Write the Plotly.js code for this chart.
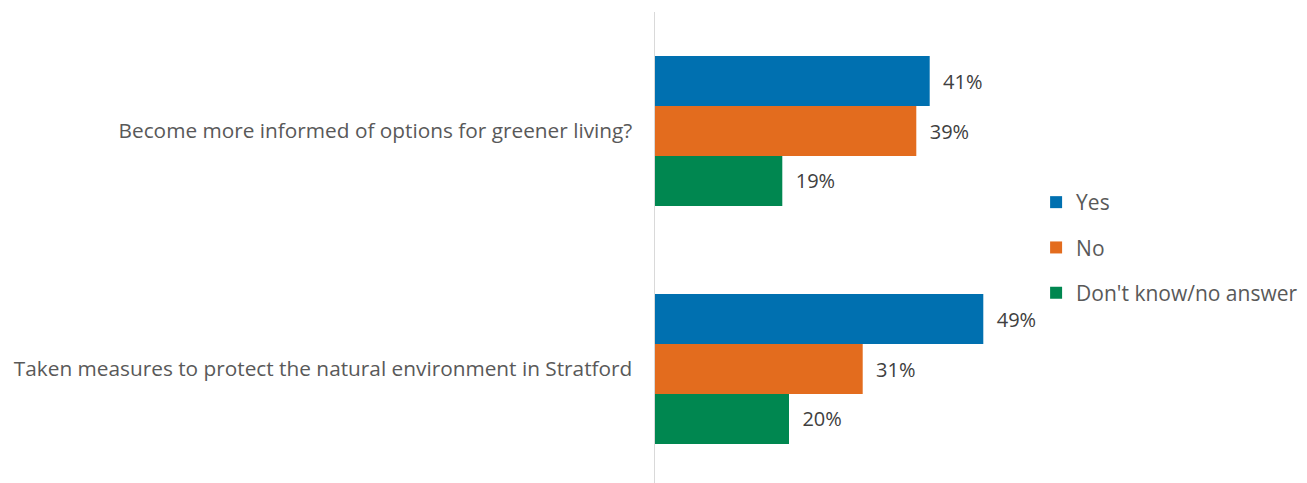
<!DOCTYPE html>
<html>
<head>
<meta charset="utf-8">
<script src="https://cdn.plot.ly/plotly-3.0.1.min.js"></script>
<style>html,body{margin:0;padding:0;background:#fff;}#chart{width:1307px;height:483px;}</style>
</head>
<body>
<div id="chart"></div>
<script>
const categories = ["Become more informed of options for greener living?", "Taken measures to protect the natural environment in Stratford"];
const seriesNames = ["Yes", "No", "Don't know/no answer"];
const yesValues = [41, 49];
const noValues = [39, 31];
const dkValues = [19, 20];
const colors = ["#0070B0", "#E36C1E", "#008750"];

const allValues = [yesValues, noValues, dkValues];
const traces = allValues.map((vals, i) => ({
  type: 'bar',
  orientation: 'h',
  name: seriesNames[i],
  legendgroup: 'g' + i,
  y: categories,
  x: vals,
  marker: {color: colors[i]},
  text: vals.map(v => v + '%'),
  texttemplate: '\u00a0\u00a0%{text}',
  textposition: 'outside',
  cliponaxis: false,
  textfont: {family: 'Open Sans, sans-serif', size: 20, color: '#404040'},
  hoverinfo: 'none'
}));

const layout = {
  width: 1307,
  height: 483,
  margin: {l: 655, r: 250, t: 12, b: 0},
  paper_bgcolor: '#ffffff',
  plot_bgcolor: '#ffffff',
  barmode: 'group',
  bargap: 0.37,
  bargroupgap: 0,
  font: {family: 'Open Sans, sans-serif', color: '#595959'},
  xaxis: {range: [0, 60], showgrid: false, zeroline: false, showticklabels: false, ticks: '', showline: false},
  yaxis: {
    type: 'category',
    range: [1.479, -0.5],
    showgrid: false,
    zeroline: false,
    showline: true,
    linecolor: '#d9d9d9',
    linewidth: 1.5,
    ticks: '',
    ticklabelstandoff: 17,
    tickfont: {family: 'Open Sans, sans-serif', size: 20.8, color: '#595959'}
  },
  showlegend: true,
  legend: {
    x: 0.948, xanchor: 'left',
    y: 0.5, yanchor: 'middle',
    tracegroupgap: 15,
    traceorder: 'grouped',
    font: {family: 'Open Sans, sans-serif', size: 21, color: '#595959'},
    bgcolor: 'rgba(0,0,0,0)'
  }
};

Plotly.newPlot('chart', traces, layout, {displayModeBar: false, staticPlot: true});
</script>
</body>
</html>
